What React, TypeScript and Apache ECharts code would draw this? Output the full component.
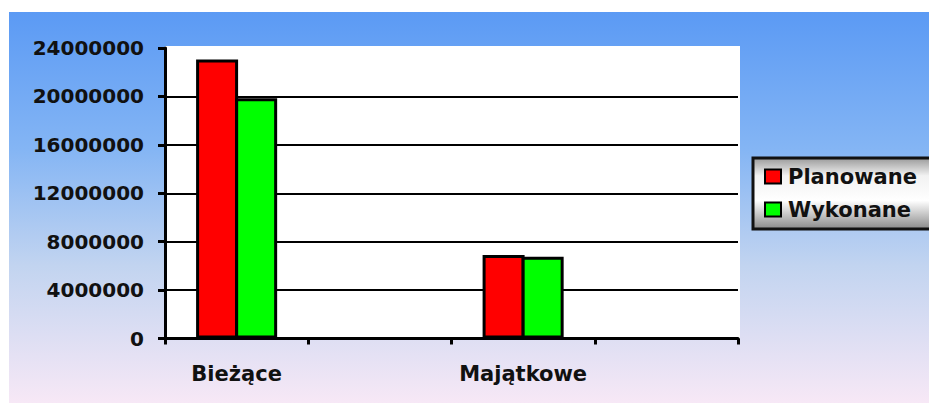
import React, { useEffect, useRef } from "react";
import * as echarts from "echarts";

const categories = ["Bieżące", "", "Majątkowe", ""];
const seriesNames = ["Planowane", "Wykonane"];
const planowane = [23050000, null, 6900000, null];
const wykonane = [19850000, null, 6760000, null];
const yMin = 0;
const yMax = 24000000;
const yInterval = 4000000;

const FONT = "DejaVu Sans";

export default function App() {
  const ref = useRef<HTMLDivElement>(null);
  useEffect(() => {
    if (!ref.current) return;
    const chart = echarts.init(ref.current, null, { renderer: "svg" });
    chart.setOption({
      animation: false,
      graphic: [
        {
          type: "rect",
          z: -20,
          silent: true,
          shape: { x: 9, y: 12, width: 920, height: 391 },
          style: {
            fill: new echarts.graphic.LinearGradient(0, 0, 0, 1, [
              { offset: 0, color: "#5b9af4" },
              { offset: 0.35, color: "#84b5f4" },
              { offset: 0.65, color: "#c2d4f0" },
              { offset: 1, color: "#f7e8f6" },
            ]),
          },
        },
        {
          type: "rect",
          z: -10,
          silent: true,
          shape: { x: 165, y: 46, width: 575, height: 293 },
          style: { fill: "#ffffff" },
        },
        {
          type: "rect",
          z: 3,
          silent: true,
          shape: { x: 753, y: 158, width: 200, height: 71 },
          style: {
            fill: new echarts.graphic.LinearGradient(0, 0, 0, 1, [
              { offset: 0, color: "#9a9a9a" },
              { offset: 0.25, color: "#f2f2f2" },
              { offset: 0.6, color: "#ffffff" },
              { offset: 1, color: "#8a8a8a" },
            ]),
            stroke: "#111",
            lineWidth: 3,
          },
        },
      ],
      legend: {
        orient: "vertical",
        left: 764,
        top: 166,
        padding: 0,
        z: 6,
        itemWidth: 16,
        itemHeight: 14,
        itemGap: 12,
        icon: "rect",
        data: seriesNames,
        itemStyle: { borderColor: "#000", borderWidth: 2 },
        textStyle: {
          fontFamily: FONT,
          fontWeight: "bold",
          fontSize: 21,
          color: "#111",
          padding: [0, 0, 0, 2],
        },
      },
      grid: {
        left: 165,
        right: 191,
        top: 48,
        bottom: 64.5,
        containLabel: false,
      },
      xAxis: {
        type: "category",
        data: categories,
        axisLine: { show: true, lineStyle: { color: "#000", width: 3 } },
        axisTick: {
          show: true,
          interval: 0,
          length: 6,
          lineStyle: { color: "#000", width: 3 },
        },
        axisLabel: {
          interval: 0,
          margin: 25,
          fontFamily: FONT,
          fontWeight: "bold",
          fontSize: 21,
          color: "#111",
        },
      },
      yAxis: {
        type: "value",
        min: yMin,
        max: yMax,
        interval: yInterval,
        axisLine: { show: true, lineStyle: { color: "#000", width: 3 } },
        axisTick: { show: true, length: 7, lineStyle: { color: "#000", width: 3 } },
        splitLine: {
          show: true,
          showMaxLine: false,
          lineStyle: { color: "#000", width: 2 },
        },
        axisLabel: {
          margin: 21,
          fontFamily: FONT,
          fontWeight: "bold",
          fontSize: 20,
          color: "#111",
          formatter: (v: number) => String(v),
        },
      },
      series: [
        {
          name: seriesNames[0],
          type: "bar",
          data: planowane,
          barWidth: 42,
          barGap: "-7%",
          itemStyle: { color: "#ff0000", borderColor: "#000", borderWidth: 3 },
        },
        {
          name: seriesNames[1],
          type: "bar",
          data: wykonane,
          barWidth: 42,
          barGap: "-7%",
          itemStyle: { color: "#00ff00", borderColor: "#000", borderWidth: 3 },
        },
      ],
    });
    return () => chart.dispose();
  }, []);
  return (
    <div
      ref={ref}
      style={{ position: "absolute", left: 0, top: 0, width: 929, height: 403 }}
    />
  );
}
